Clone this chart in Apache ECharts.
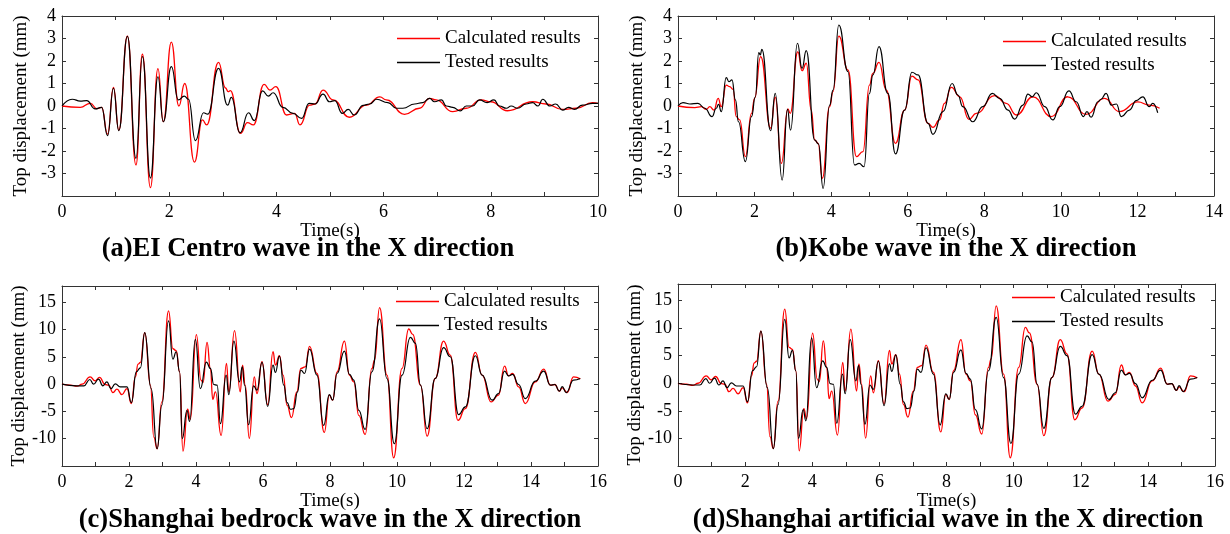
<!DOCTYPE html>
<html>
<head>
<meta charset="utf-8">
<title>Top displacement comparison</title>
<script src="https://cdn.jsdelivr.net/npm/echarts@6/dist/echarts.min.js"></script>
<style>
  html, body { margin: 0; padding: 0; background: #fff; }
  #chart { width: 1230px; height: 534px; }
</style>
</head>
<body>
<div id="chart"></div>
<script>
const FONT = '"Liberation Serif", "Times New Roman", serif'

const seriesNames = ['Calculated results', 'Tested results']
const panelTitles = [
  '(a)EI Centro wave in the X direction',
  '(b)Kobe wave in the X direction',
  '(c)Shanghai bedrock wave in the X direction',
  '(d)Shanghai artificial wave in the X direction'
]

// [time (s), top displacement (mm)]
const elCalc = [
  [0, 0], [0.34, -0.06], [0.53, 0.12], [0.65, -0.12], [0.74, -0.06], [0.85, -1.25], [0.96, 0.83],
  [1.06, -1.07], [1.22, 3.11], [1.38, -2.62], [1.5, 2.3], [1.65, -3.63], [1.79, 1.66], [1.89, -0.7],
  [2.04, 2.84], [2.18, 0], [2.29, 1.0], [2.47, -2.49], [2.62, -0.62], [2.7, -0.84], [2.92, 1.94],
  [3.05, 0.8], [3.1, 0.64], [3.14, 0.68], [3.33, -1.21], [3.46, -0.74], [3.57, -0.84], [3.77, 0.96],
  [3.88, 0.71], [3.99, 0.86], [4.19, -0.4], [4.34, -0.33], [4.44, -0.84], [4.62, 0.04], [4.72, 0.09],
  [4.87, 0.71], [5.06, 0.27], [5.36, -0.5], [5.68, 0.04], [5.93, 0.41], [6.05, 0.27], [6.39, -0.37],
  [6.67, -0.1], [6.86, 0.34], [6.98, 0.27], [7.29, -0.25], [7.54, -0.1], [7.82, 0.27], [8.0, 0.19],
  [8.31, -0.21], [8.78, 0.19], [9.03, 0.09], [9.34, -0.15], [9.59, -0.1], [9.9, 0.15], [10, 0.12]
]
const elTest = [
  [0, 0], [0.19, 0.3], [0.34, 0.22], [0.46, 0.24], [0.62, -0.13], [0.74, -0.06], [0.85, -1.32],
  [0.96, 0.79], [1.06, -1.1], [1.22, 3.1], [1.38, -2.33], [1.5, 2.2], [1.65, -3.2], [1.79, 1.3],
  [1.89, -0.7], [2.04, 1.75], [2.17, 0.27], [2.28, 0.44], [2.36, 0.3], [2.49, -1.54], [2.64, -0.3],
  [2.72, -0.36], [2.92, 1.67], [3.09, 0.04], [3.16, 0.38], [3.32, -1.19], [3.48, -0.3], [3.59, -0.65],
  [3.74, 0.67], [3.85, 0.44], [3.94, 0.59], [4.12, -0.06], [4.31, -0.33], [4.47, -0.55], [4.61, 0.12],
  [4.72, 0.09], [4.87, 0.53], [4.99, 0.19], [5.09, 0.24], [5.23, -0.33], [5.34, -0.15], [5.45, -0.4],
  [5.62, 0.03], [5.74, 0.09], [5.87, 0.3], [6.08, 0.15], [6.24, -0.1], [6.36, -0.1], [6.58, 0.09],
  [6.73, 0.15], [6.86, 0.34], [6.95, 0.19], [7.08, 0.27], [7.17, 0], [7.29, -0.06], [7.43, -0.22],
  [7.54, 0], [7.66, 0], [7.79, 0.27], [7.93, 0.15], [8.06, 0.27], [8.16, 0], [8.29, -0.1], [8.38, 0],
  [8.5, -0.1], [8.66, 0.09], [8.78, 0.15], [8.88, 0], [8.97, 0.3], [9.1, 0], [9.21, 0.09], [9.34, -0.18],
  [9.45, -0.06], [9.56, -0.15], [9.71, 0.04], [9.9, 0.12], [10, 0.12]
]

const kobeCalc = [
  [0, 0], [0.44, -0.07], [0.61, -0.03], [0.74, -0.15], [0.83, -0.03], [0.94, -0.18], [1.05, 0.34],
  [1.13, -0.03], [1.26, 0.93], [1.35, 0.86], [1.44, 0.74], [1.52, -0.47], [1.61, -0.62], [1.76, -2.25],
  [1.92, -0.33], [2.0, 0.34], [2.16, 2.19], [2.42, -0.99], [2.54, 0.39], [2.7, -2.55], [2.87, -0.13],
  [2.93, -0.33], [3.13, 2.41], [3.24, 1.57], [3.35, 1.9], [3.48, -0.18], [3.57, -1.51], [3.66, -1.66],
  [3.77, -3.21], [3.96, -0.03], [4.05, 0.64], [4.2, 3.11], [4.44, 1.6], [4.66, -2.25], [4.83, -2.03],
  [5.0, 0.93], [5.09, 1.45], [5.25, 1.94], [5.44, 0.71], [5.68, -1.66], [5.92, -0.18], [6.11, 1.33],
  [6.27, 1.16], [6.53, -0.77], [6.66, -0.95], [6.83, -0.62], [6.96, 0.12], [7.14, 0.83], [7.36, 0.41],
  [7.6, -0.59], [7.79, -0.33], [8.27, 0.46], [8.57, 0.12], [8.84, -0.4], [9.27, 0.41], [9.75, -0.47],
  [10.18, 0.41], [10.66, -0.37], [11.14, 0.34], [11.53, -0.25], [12.01, 0.18], [12.31, 0.04], [12.58, -0.1]
]
const kobeTest = [
  [0, 0], [0.13, 0.15], [0.31, 0.09], [0.52, 0.12], [0.7, -0.1], [0.89, -0.47], [1.0, -0.1],
  [1.06, 0.07], [1.13, -0.25], [1.26, 1.26], [1.33, 1.08], [1.41, 1.16], [1.5, 0.27], [1.58, -0.7],
  [1.76, -2.47], [1.92, -0.47], [2.02, 0.41], [2.11, 2.37], [2.15, 2.27], [2.19, 2.52], [2.42, -1.1],
  [2.54, 0.56], [2.72, -3.29], [2.86, -0.15], [2.94, -1.07], [3.12, 2.79], [3.24, 1.67], [3.35, 2.46],
  [3.57, -1.51], [3.67, -1.69], [3.79, -3.66], [3.96, 0.04], [4.05, 0.71], [4.2, 3.6], [4.44, 1.53],
  [4.61, -2.62], [4.73, -2.55], [4.86, -2.7], [5.0, 0.56], [5.09, 1.38], [5.25, 2.64], [5.48, 0.56],
  [5.68, -2.13], [5.92, -0.18], [6.11, 1.5], [6.27, 1.38], [6.53, -0.77], [6.66, -1.26], [6.92, -0.25],
  [7.16, 1.0], [7.31, 0.49], [7.44, -0.03], [7.7, -0.7], [7.96, -0.03], [8.21, 0.56], [8.4, 0.34],
  [8.62, -0.18], [8.79, -0.58], [9.01, 0.04], [9.14, 0.53], [9.25, 0.41], [9.36, 0.59], [9.58, -0.03],
  [9.79, -0.62], [9.97, -0.03], [10.21, 0.67], [10.4, 0.19], [10.59, -0.47], [10.68, -0.25], [10.79, -0.5],
  [10.97, 0.19], [11.05, 0.3], [11.18, 0.56], [11.32, 0.04], [11.45, 0.09], [11.58, -0.47], [11.79, -0.18],
  [11.97, 0.24], [12.14, 0.41], [12.31, -0.03], [12.4, 0.12], [12.53, -0.3]
]

// same records drawn in panels (c) and (d)
const shCalc = [
  [0, 0], [0.25, -0.18], [0.45, -0.37], [0.6, 0], [0.84, 1.35], [0.99, 0.61], [1.12, 1.23], [1.29, -0.06],
  [1.39, -0.18], [1.52, -1.53], [1.64, -0.92], [1.79, -1.9], [1.94, -0.8], [2.07, -3.56], [2.19, 1.35],
  [2.27, 3.68], [2.34, 3.99], [2.47, 9.45], [2.64, -0.18], [2.74, -9.69], [2.84, -11.84], [2.98, -3.25],
  [3.18, 13.44], [3.31, 6.5], [3.41, 6.13], [3.51, 2.27], [3.61, -12.27], [3.75, -4.6], [3.83, -6.44],
  [4.01, 9.08], [4.15, 0.74], [4.21, 0.31], [4.33, 7.67], [4.43, 2.88], [4.5, -2.76], [4.58, -1.41],
  [4.75, -9.39], [4.91, 3.8], [4.98, -1.41], [5.15, 9.82], [5.32, -1.41], [5.39, 3.5], [5.47, -0.18],
  [5.59, -9.94], [5.74, 1.35], [5.82, -1.72], [5.97, 4.11], [6.14, -3.74], [6.3, 5.95], [6.37, 3.5],
  [6.49, 5.21], [6.6, 1.66], [6.72, -3.87], [6.85, -6.13], [7.01, -1.41], [7.13, 2.88], [7.26, 3.19],
  [7.39, 6.93], [7.61, 1.96], [7.83, -8.83], [7.98, -2.02], [8.08, -2.94], [8.21, 2.27], [8.43, 7.91],
  [8.58, 1.66], [8.71, 0.43], [8.86, -5.71], [9.05, -9.2], [9.25, 2.88], [9.33, 4.42], [9.48, 14.05],
  [9.7, 1.66], [9.9, -13.5], [10.15, 2.88], [10.35, 10.12], [10.47, 9.14], [10.7, -0.18], [10.9, -9.51],
  [11.14, 1.04], [11.39, 7.91], [11.59, 5.34], [11.82, -6.62], [12.04, -4.48], [12.34, 5.83], [12.54, 1.66],
  [12.81, -3.25], [13.03, -2.02], [13.21, 3.31], [13.33, 1.53], [13.45, 1.96], [13.63, -0.49], [13.83, -3.56],
  [14.13, 0.43], [14.38, 2.76], [14.58, -0.18], [14.71, -0.06], [14.85, -1.29], [14.93, -0.67], [15.08, -1.53],
  [15.27, 1.35], [15.47, 0.98]
]
const shTest = [
  [0, 0], [0.43, -0.31], [0.65, -0.31], [0.83, 0.86], [0.94, 0], [1.09, 0.92], [1.22, -0.31], [1.34, 0.43],
  [1.46, -0.8], [1.59, 0.06], [1.74, -0.49], [1.94, -0.49], [2.07, -3.37], [2.22, 2.27], [2.34, 3.0],
  [2.47, 9.45], [2.66, -0.8], [2.84, -11.84], [2.98, -3.87], [3.18, 11.6], [3.31, 4.6], [3.41, 5.95],
  [3.51, 2.27], [3.59, -10.0], [3.73, -4.79], [3.81, -6.81], [3.98, 8.22], [4.13, -0.8], [4.31, 4.05],
  [4.43, 2.88], [4.53, -0.06], [4.63, -0.18], [4.73, -7.24], [4.9, 1.66], [4.98, -1.9], [5.13, 7.91],
  [5.3, 0.43], [5.38, 3.19], [5.45, -0.18], [5.57, -7.42], [5.72, -0.31], [5.82, -1.1], [5.97, 3.99],
  [6.14, -4.05], [6.3, 3.5], [6.37, 2.15], [6.49, 5.15], [6.62, -0.18], [6.72, -3.37], [6.82, -4.6],
  [6.92, -4.48], [7.03, -1.41], [7.13, 2.58], [7.24, 1.96], [7.39, 6.44], [7.61, 1.66], [7.81, -7.55],
  [7.98, -1.9], [8.08, -2.94], [8.21, 1.96], [8.43, 6.07], [8.58, 1.78], [8.71, 0.74], [8.86, -4.79],
  [9.05, -8.28], [9.25, 2.27], [9.48, 11.96], [9.7, 1.04], [9.92, -10.92], [10.15, 1.66], [10.4, 8.59],
  [10.55, 7.48], [10.7, -0.18], [10.9, -8.16], [11.14, 1.04], [11.39, 6.69], [11.59, 5.03], [11.84, -5.59],
  [12.04, -4.17], [12.34, 5.21], [12.54, 1.66], [12.84, -2.94], [13.03, -1.72], [13.21, 2.39], [13.33, 1.53],
  [13.45, 1.78], [13.63, -0.06], [13.83, -2.64], [14.13, 0.55], [14.38, 2.39], [14.58, -0.18], [14.71, -0.06],
  [14.85, -1.29], [14.93, -0.43], [15.05, -1.53], [15.27, 0.74], [15.47, 1.04]
]

// axis ranges [min, max, step]
const xRanges = [[0, 10, 1], [0, 14, 1], [0, 16, 1], [0, 16, 1]]
const yRanges = [[-4, 4, 1], [-4, 4, 1], [-15, 18, 5], [-15, 18, 5]]

const panels = [
  { grid: { left: 62, top: 16, width: 536, height: 180 }, calc: elCalc, test: elTest, legend: [397, 29], title: [308, 249] },
  { grid: { left: 678, top: 16, width: 536, height: 180 }, calc: kobeCalc, test: kobeTest, legend: [1003, 32], title: [956, 249] },
  { grid: { left: 62, top: 286, width: 536, height: 180 }, calc: shCalc, test: shTest, legend: [396, 292], title: [330, 520] },
  { grid: { left: 678, top: 284, width: 537, height: 182 }, calc: shCalc, test: shTest, legend: [1012, 288], title: [948, 520] }
]

const axisLine = { show: true, onZero: false, lineStyle: { color: '#333', width: 1 } }
const axisTick = { show: true, inside: true, length: 4, lineStyle: { color: '#333' } }
const labelStyle = { color: '#000', fontSize: 18, fontFamily: FONT }

const chart = echarts.init(document.getElementById('chart'), null, { renderer: 'canvas' })

const grid = [], xAxis = [], yAxis = [], series = [], legend = [], graphic = []

panels.forEach((p, i) => {
  const [x0, x1, xs] = xRanges[i]
  const [y0, y1, ys] = yRanges[i]
  grid.push({ ...p.grid, show: false })

  const xBase = { type: 'value', gridIndex: i, min: x0, max: x1, interval: xs, splitLine: { show: false }, axisLine, axisTick }
  xAxis.push({
    ...xBase,
    position: 'bottom',
    name: 'Time(s)',
    nameLocation: 'middle',
    nameGap: 22,
    nameTextStyle: { color: '#000', fontSize: 19, fontFamily: FONT },
    axisLabel: { ...labelStyle, margin: 7, formatter: v => (v % 2 === 0 ? String(v) : '') }
  })
  xAxis.push({ ...xBase, position: 'top', axisLabel: { show: false } })

  const yBase = { type: 'value', gridIndex: i, min: y0, max: y1, interval: ys, splitLine: { show: false }, axisLine, axisTick }
  yAxis.push({
    ...yBase,
    position: 'left',
    name: 'Top displacement (mm)',
    nameLocation: 'middle',
    nameGap: 31,
    nameTextStyle: { color: '#000', fontSize: 19, fontFamily: FONT },
    axisLabel: { ...labelStyle, margin: 6, formatter: v => (v === y0 || v % ys !== 0 ? '' : String(v)) }
  })
  yAxis.push({ ...yBase, position: 'right', axisLabel: { show: false } })

  const common = {
    type: 'line',
    xAxisIndex: i * 2,
    yAxisIndex: i * 2,
    symbol: 'none',
    smooth: 0.5,
    smoothMonotone: 'x',
    animation: false
  }
  series.push({ ...common, name: seriesNames[0], data: p.calc, lineStyle: { color: '#ff0000', width: 1.3 }, itemStyle: { color: '#ff0000' }, z: 2 })
  series.push({ ...common, name: seriesNames[1], data: p.test, lineStyle: { color: '#000000', width: 1.2 }, itemStyle: { color: '#000000' }, z: 3 })

  legend.push({
    data: seriesNames,
    orient: 'vertical',
    left: p.legend[0],
    top: p.legend[1],
    padding: 0,
    icon: 'rect',
    itemWidth: 43,
    itemHeight: 1.5,
    itemGap: 5,
    selectedMode: false,
    textStyle: { color: '#000', fontSize: 19, fontFamily: FONT }
  })

  graphic.push({
    type: 'text',
    x: p.title[0],
    y: p.title[1],
    style: {
      text: panelTitles[i],
      fill: '#000',
      font: 'bold 26.5px ' + FONT,
      textAlign: 'center',
      textVerticalAlign: 'middle'
    }
  })
})

chart.setOption({
  backgroundColor: '#fff',
  animation: false,
  grid,
  xAxis,
  yAxis,
  legend,
  graphic,
  series
})
</script>
</body>
</html>
